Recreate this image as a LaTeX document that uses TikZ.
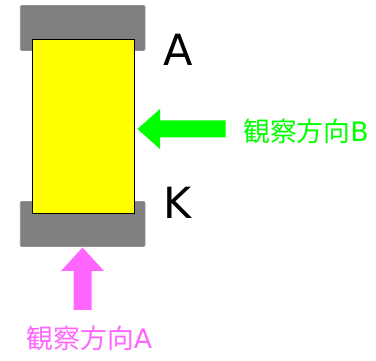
\documentclass[tikz,border=0pt]{standalone}
\usepackage{fontspec}
\setmainfont{DejaVu Sans}
\newfontfamily\cjk{Noto Sans CJK JP}
\definecolor{padgrey}{RGB}{128,128,128}
\definecolor{viewpink}{RGB}{255,102,255}
\definecolor{viewgreen}{RGB}{0,255,0}
\definecolor{bodyyellow}{RGB}{255,255,0}
\tikzset{
  pad/.style={fill=padgrey,draw=padgrey!85!white,line width=0.6pt,rounded corners=1pt},
  body/.style={fill=bodyyellow,draw=black,line width=1pt},
  lead/.style={font=\fontsize{43}{43}\selectfont,text=black,inner sep=0pt,anchor=base west},
  viewlabel/.style={font=\fontsize{26.8}{27}\selectfont,inner sep=0pt,anchor=base west}
}
\begin{document}
\begin{tikzpicture}[x=1pt,y=-1pt]
\useasboundingbox (0,0) rectangle (376,361);
\draw[pad] (20.3,5.5) rectangle (145,50.5);
\draw[pad] (20.3,201.5) rectangle (145,246.5);
\draw[body] (32.5,40) rectangle (134,214);
\fill[viewgreen] (137.5,129) -- (160,109) -- (160,120.5) -- (225.5,120.5) -- (225.5,137.5) -- (160,137.5) -- (160,149) -- cycle;
\fill[viewpink] (82.5,247.5) -- (104,271) -- (91.5,271) -- (91.5,310) -- (73.5,310) -- (73.5,271) -- (61,271) -- cycle;
\node[lead] (labelA) at (163,66) {A};
\node[lead] (labelK) at (163,219) {K};
\node[viewlabel,text=viewgreen] (viewB) at (243,142) {{\cjk 観察方向}B};
\node[viewlabel,text=viewpink] (viewA) at (26.5,349) {{\cjk 観察方向}A};
\end{tikzpicture}
\end{document}
